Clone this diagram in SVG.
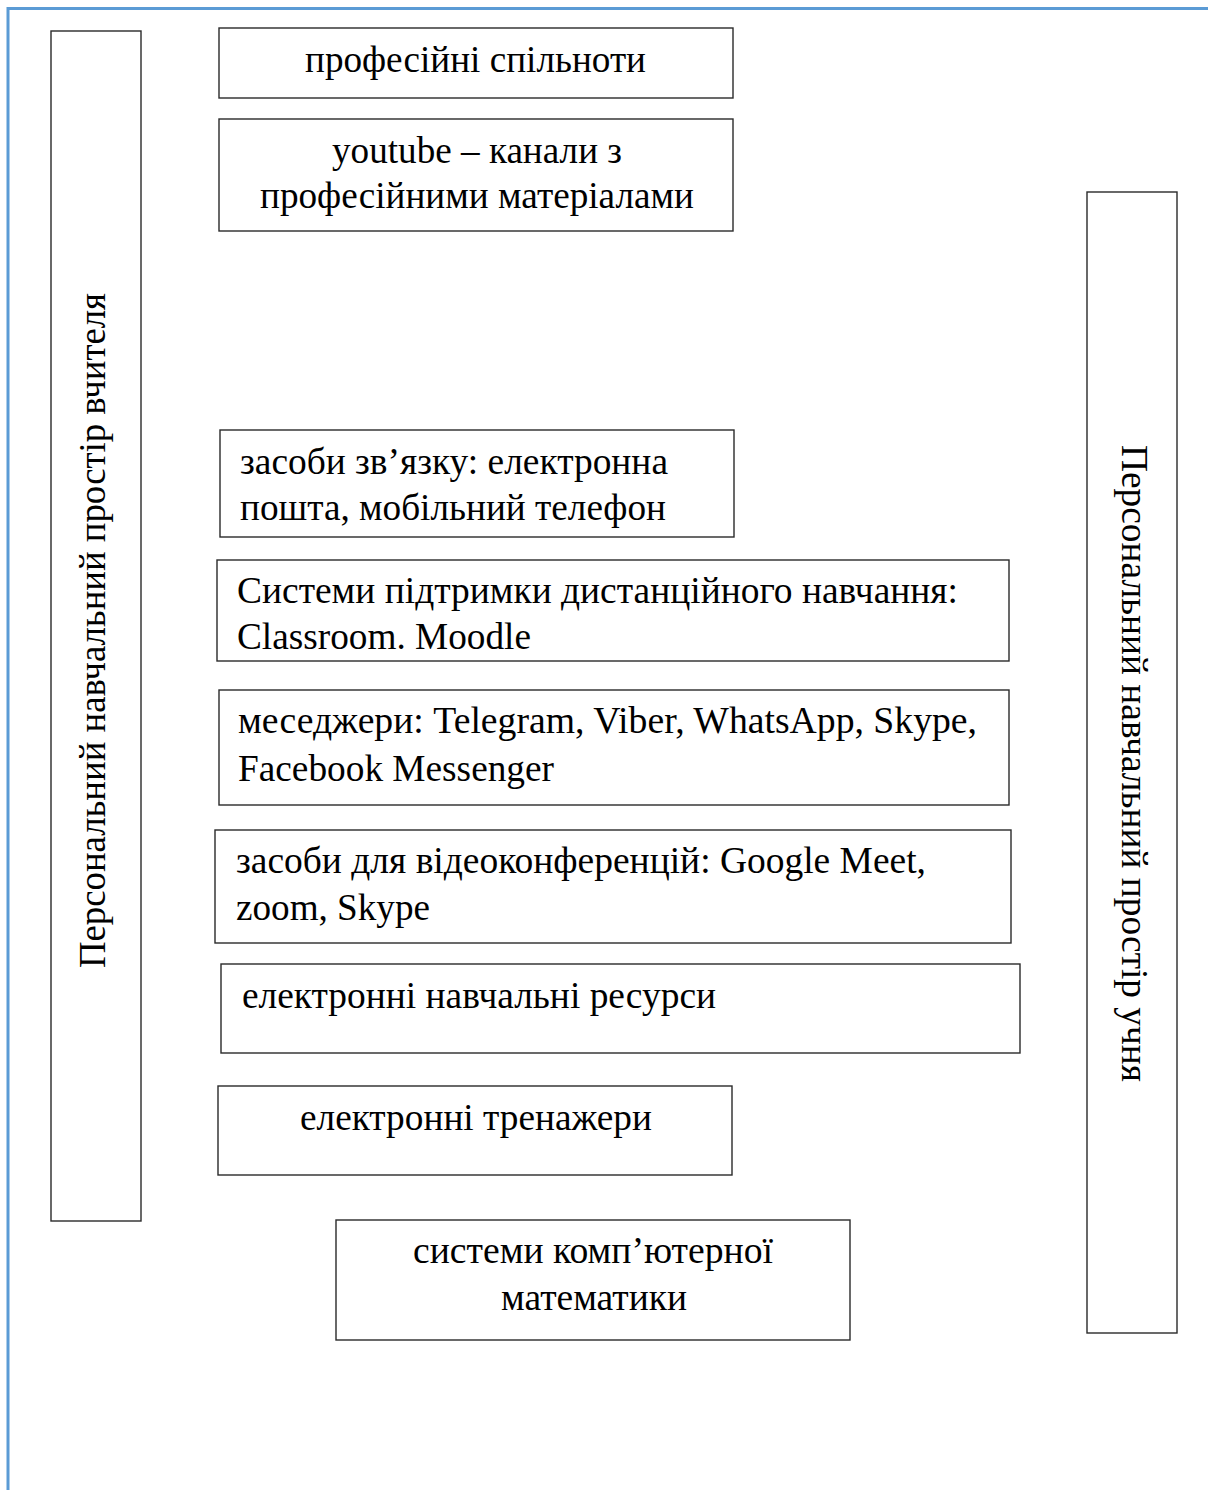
<svg xmlns="http://www.w3.org/2000/svg" width="1208" height="1490" viewBox="0 0 1208 1490">
<style>
.box{fill:#fff;stroke:#2a2a2a;stroke-width:1.4}
.t{font-family:"Times New Roman","Liberation Serif",Tinos,serif;font-size:37px;fill:#000}
.frame{fill:none;stroke:#5b9bd5;stroke-width:3}
</style>
<rect width="1208" height="1490" fill="#fff"/>
<path class="frame" d="M8,1490 V8.5 H1208"/>
<g id="teacher">
<rect class="box" x="51" y="31" width="90" height="1190"/>
<text class="t" transform="translate(105,968) rotate(-90)" textLength="675" lengthAdjust="spacingAndGlyphs">Персональний навчальний простір вчителя</text>
</g>
<g id="student">
<rect class="box" x="1087" y="192" width="90" height="1141"/>
<text class="t" transform="translate(1122,445) rotate(90)" textLength="637" lengthAdjust="spacingAndGlyphs">Персональний навчальний простір учня</text>
</g>
<g id="n1">
<rect class="box" x="219" y="28" width="514" height="70"/>
<text class="t" x="305" y="72" textLength="341" lengthAdjust="spacingAndGlyphs">професійні спільноти</text>
</g>
<g id="n2">
<rect class="box" x="219" y="119" width="514" height="112"/>
<text class="t" x="332" y="163" textLength="290" lengthAdjust="spacingAndGlyphs">youtube – канали з</text>
<text class="t" x="260" y="208" textLength="434" lengthAdjust="spacingAndGlyphs">професійними матеріалами</text>
</g>
<g id="n3">
<rect class="box" x="220" y="430" width="514" height="107"/>
<text class="t" x="240" y="474" textLength="428" lengthAdjust="spacingAndGlyphs">засоби зв’язку: електронна</text>
<text class="t" x="240" y="520" textLength="426" lengthAdjust="spacingAndGlyphs">пошта, мобільний телефон</text>
</g>
<g id="n4">
<rect class="box" x="217" y="560" width="792" height="101"/>
<text class="t" x="237" y="603" textLength="721" lengthAdjust="spacingAndGlyphs">Системи підтримки дистанційного навчання:</text>
<text class="t" x="237" y="649" textLength="294" lengthAdjust="spacingAndGlyphs">Classroom. Moodle</text>
</g>
<g id="n5">
<rect class="box" x="219" y="690" width="790" height="115"/>
<text class="t" x="238" y="733" textLength="739" lengthAdjust="spacingAndGlyphs">меседжери: Telegram, Viber, WhatsApp, Skype,</text>
<text class="t" x="238" y="781" textLength="316" lengthAdjust="spacingAndGlyphs">Facebook Messenger</text>
</g>
<g id="n6">
<rect class="box" x="215" y="830" width="796" height="113"/>
<text class="t" x="236" y="873" textLength="690" lengthAdjust="spacingAndGlyphs">засоби для відеоконференцій: Google Meet,</text>
<text class="t" x="236" y="920" textLength="194" lengthAdjust="spacingAndGlyphs">zoom, Skype</text>
</g>
<g id="n7">
<rect class="box" x="221" y="964" width="799" height="89"/>
<text class="t" x="242" y="1008" textLength="474" lengthAdjust="spacingAndGlyphs">електронні навчальні ресурси</text>
</g>
<g id="n8">
<rect class="box" x="218" y="1086" width="514" height="89"/>
<text class="t" x="300" y="1130" textLength="352" lengthAdjust="spacingAndGlyphs">електронні тренажери</text>
</g>
<g id="n9">
<rect class="box" x="336" y="1220" width="514" height="120"/>
<text class="t" x="413" y="1263" textLength="360" lengthAdjust="spacingAndGlyphs">системи комп’ютерної</text>
<text class="t" x="501" y="1310" textLength="186" lengthAdjust="spacingAndGlyphs">математики</text>
</g>
<g id="connectors"></g>
</svg>
